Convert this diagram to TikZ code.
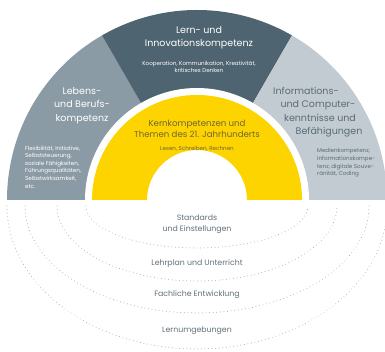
\documentclass[tikz,border=0pt]{standalone}
\usepackage{fontspec}
\setmainfont{Poppins}
\definecolor{darksec}{HTML}{4E6470}
\definecolor{midsec}{HTML}{8B9BA5}
\definecolor{lightsec}{HTML}{C1CBD1}
\definecolor{kernyellow}{HTML}{FDD300}
\definecolor{kerntext}{HTML}{6E6632}
\definecolor{righttext}{HTML}{5B6B75}
\definecolor{bottomtext}{HTML}{5F6F78}
\definecolor{dotcol}{HTML}{A3AEB5}
\tikzset{
  bigtext/.style={font=\fontsize{9.5}{13.5}\selectfont, align=center, inner sep=0pt},
  smalltext/.style={font=\fontsize{5.6}{7.6}\selectfont, inner sep=0pt},
  lowtext/.style={font=\fontsize{7.8}{11}\selectfont, align=center, inner sep=0pt, text=bottomtext},
  dotarc/.style={draw=dotcol, line width=1pt, dash pattern=on 0.01pt off 3.6pt, line cap=round}
}
\begin{document}
\begin{tikzpicture}[x=1pt,y=1pt]
\useasboundingbox (0,0) rectangle (385,352);
\clip (0,0) rectangle (385,352);
\coordinate (C) at (197,152);
\coordinate (E) at (197,146);
% sectors
\fill[midsec] (C) -- ++(180:190) arc[start angle=180,end angle=120,radius=190] -- cycle;
\fill[darksec] (C) -- ++(120:190) arc[start angle=120,end angle=60,radius=190] -- cycle;
\fill[lightsec] (C) -- ++(60:190) arc[start angle=60,end angle=0,radius=190] -- cycle;
\fill[white] (C) -- ++(0:112) arc[start angle=0,end angle=180,radius=112] -- cycle;
\fill[kernyellow] (C) ++(0:105) arc[start angle=0,end angle=180,radius=105] -- ++(55,0) arc[start angle=180,end angle=0,radius=50] -- cycle;
% dotted arcs
\draw[dotarc] (E) ++(-111,0) arc[start angle=180,end angle=360,x radius=111,y radius=42];
\draw[dotarc] (E) ++(-140,0) arc[start angle=180,end angle=360,x radius=140,y radius=75];
\draw[dotarc] (E) ++(-172,0) arc[start angle=180,end angle=360,x radius=172,y radius=107];
\draw[dotarc] (E) ++(-190,0) arc[start angle=180,end angle=360,x radius=190,y radius=143];
% dark sector texts
\node[bigtext, text=white] (lern) at (199,314.5) {Lern- und\\Innovationskompetenz};
\node[smalltext, text=white, align=center] (lernsub) at (199,285) {Kooperation, Kommunikation, Kreativität,\\kritisches Denken};
% left sector
\node[bigtext, text=white] (leben) at (82,246.5) {Lebens-\\und Berufs-\\kompetenz};
\node[smalltext, text=white, align=left, anchor=west] (lebensub) at (25,185) {Flexibilität, Initiative,\\Selbststeuerung,\\soziale Fähigkeiten,\\Führungsqualitäten,\\Selbstwirksamkeit,\\etc.};
% right sector
\node[bigtext, text=righttext] (info) at (318,240) {Informations-\hspace*{24pt}\\und Computer-\hspace*{2pt}\\\hspace*{4pt}kenntnisse und\\\hspace*{22pt}Befähigungen};
\node[smalltext, text=righttext, align=left, anchor=west] (infosub) at (317,189) {Medienkompetenz,\\Informationskompe-\\tenz, digitale Souve-\\ränität, Coding};
% yellow
\node[bigtext, text=kerntext, font=\fontsize{8.6}{11}\selectfont] (kern) at (197,223) {Kernkompetenzen und\\Themen des 21. Jahrhunderts};
\node[smalltext, text=kerntext] (kernsub) at (197,203) {Lesen, Schreiben, Rechnen};
% bottom texts
\node[lowtext] (std) at (197,127.5) {Standards\\und Einstellungen};
\node[lowtext] (lehr) at (197,88) {Lehrplan und Unterricht};
\node[lowtext] (fach) at (197,57) {Fachliche Entwicklung};
\node[lowtext] (umg) at (197,21) {Lernumgebungen};
\end{tikzpicture}
\end{document}
